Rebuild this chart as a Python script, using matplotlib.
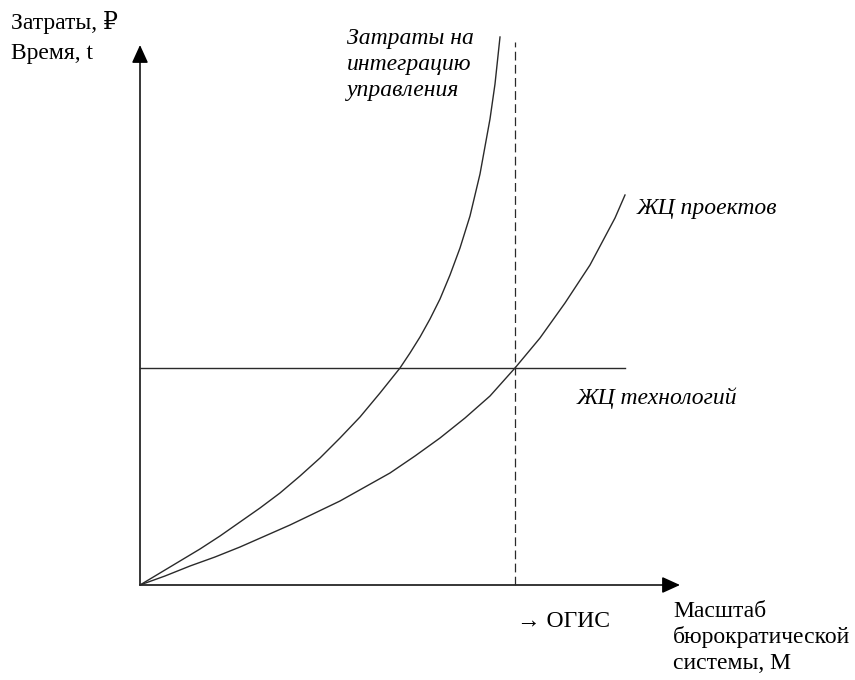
import numpy as np
import matplotlib
matplotlib.use("Agg")
import matplotlib.pyplot as plt
from matplotlib.patches import FancyArrowPatch

# units are pixels from the origin
INTEGRATION_X = [0, 20, 40, 60, 80, 100, 120, 140, 160, 180, 200, 220, 240,
                 260, 270, 280, 290, 300, 310, 320, 330, 340, 350, 355, 360]
INTEGRATION_Y = [0, 12, 24, 36, 49, 63, 77, 92, 109, 127, 147, 168, 192,
                 217, 232, 248, 266, 286, 310, 337, 369, 411, 466, 501, 548]

PROJECTS_X = [0, 25, 50, 75, 100, 125, 150, 175, 200, 225, 250, 275, 300,
              325, 350, 375, 400, 425, 450, 475, 485]
PROJECTS_Y = [0, 9, 19, 28, 38, 49, 60, 72, 84, 98, 112, 129, 147,
              167, 189, 217, 247, 282, 320, 367, 390]

TECH_LEVEL = 217
TECH_END = 485
OGIS_X = 375
DASH_TOP = 543

X_AXIS_END = 540
Y_AXIS_END = 540

Y_LABEL_LINES = ["Затраты, ₽", "Время, t"]
X_LABEL_LINES = ["Масштаб", "бюрократической", "системы, М"]
INTEGRATION_LABEL = ["Затраты на", "интеграцию", "управления"]
PROJECTS_LABEL = "ЖЦ проектов"
TECH_LABEL = "ЖЦ технологий"
OGIS_LABEL = "→ ОГИС"

SERIF = ["Liberation Serif", "DejaVu Serif"]
LINE_COLOR = "#2a2a2a"
FS = 17


def draw_axis_arrow(ax, x_end, y_end):
    arrow = FancyArrowPatch(
        (0, 0),
        (x_end, y_end),
        arrowstyle="-|>,head_length=1.1,head_width=0.5",
        mutation_scale=10,
        color="black",
        lw=1.1,
        shrinkA=0,
        shrinkB=0,
    )
    ax.add_patch(arrow)


def draw_lines(ax, x0, y0, lines, step, **kw):
    for i, line in enumerate(lines):
        ax.text(x0, y0 - i * step, line, va="baseline", ha="left", family=SERIF, **kw)


def main():
    fig = plt.figure(figsize=(8.55, 6.8), dpi=100)
    ax = fig.add_axes([0, 0, 1, 1])
    ax.set_xlim(-140, 715)
    ax.set_ylim(-95, 585)
    ax.axis("off")

    draw_axis_arrow(ax, X_AXIS_END, 0)
    draw_axis_arrow(ax, 0, Y_AXIS_END)

    ax.plot(INTEGRATION_X, INTEGRATION_Y, color=LINE_COLOR, lw=1.0)
    ax.plot(PROJECTS_X, PROJECTS_Y, color=LINE_COLOR, lw=1.0)
    ax.plot([0, TECH_END], [TECH_LEVEL, TECH_LEVEL], color=LINE_COLOR, lw=1.0)
    ax.plot(
        [OGIS_X, OGIS_X],
        [0, DASH_TOP],
        color=LINE_COLOR,
        lw=0.9,
        linestyle=(0, (7, 3.5)),
    )

    draw_lines(ax, -129, 556, Y_LABEL_LINES, 30, fontsize=FS)
    draw_lines(ax, 533, -32, X_LABEL_LINES, 26, fontsize=FS)
    ax.text(377, -42, OGIS_LABEL, va="baseline", ha="left", family=SERIF, fontsize=FS)

    draw_lines(ax, 207, 541, INTEGRATION_LABEL, 26, fontsize=FS, style="italic")
    ax.text(497, 371, PROJECTS_LABEL, va="baseline", family=SERIF, fontsize=FS, style="italic")
    ax.text(437, 181, TECH_LABEL, va="baseline", family=SERIF, fontsize=FS, style="italic")

    fig.savefig("out.png", dpi=100)
    plt.close(fig)


if __name__ == "__main__":
    main()
